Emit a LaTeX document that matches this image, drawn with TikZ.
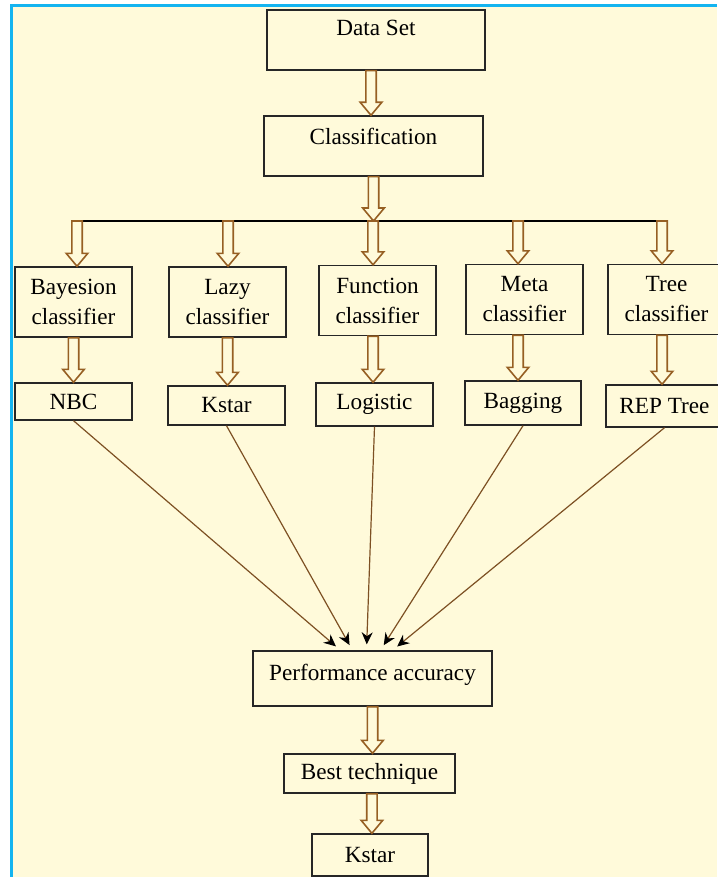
\documentclass[tikz,border=0pt]{standalone}
\usepackage{fontspec}
\setmainfont{Liberation Serif}
\usetikzlibrary{arrows.meta,calc,positioning}

\definecolor{cream}{RGB}{255,250,218}
\definecolor{skyline}{RGB}{20,180,240}
\definecolor{arrbrown}{RGB}{150,95,35}
\definecolor{linebrown}{RGB}{125,80,35}

\tikzset{
  box/.style={draw=black!85, line width=0.7pt, fill=cream, inner sep=3pt,
    align=center, font=\rmfamily\fontsize{11.6}{15}\selectfont},
  dbl/.style={draw=arrbrown, line width=0.8pt, fill=cream,
    to path={let \p1=(\tikztostart), \p2=(\tikztotarget) in
      (\x1-2.6pt,\y1) -- (\x1-2.6pt,\y2+6.5pt) -- (\x1-5.4pt,\y2+6.5pt) -- (\x1,\y2)
      -- (\x1+5.4pt,\y2+6.5pt) -- (\x1+2.6pt,\y2+6.5pt) -- (\x1+2.6pt,\y1) -- cycle}},
  feed/.style={draw=linebrown, line width=0.6pt,
    -{Stealth[black,length=6pt,width=5.5pt]}, shorten >=3pt}
}

\begin{document}
\begin{tikzpicture}[x=0.5pt,y=-0.5pt]
\useasboundingbox (0,0) rectangle (717,877);
\fill[white] (0,0) rectangle (717,877);
\fill[cream] (12,7) rectangle (717,877);
\draw[skyline, line width=1.5pt] (11,877) -- (11,6) -- (717,6);

\node[box, minimum width=109pt, text height=10pt, text depth=14pt] (ds) at (376,40) {Data Set};
\node[box, minimum width=109.5pt, text height=11.5pt, text depth=12.5pt] (cls) at (373.5,146) {Classification};

\node[box, minimum width=58.5pt, minimum height=35pt] (bay) at (73.5,302) {Bayesion\\classifier};
\node[box, minimum width=58.5pt, minimum height=35pt] (lazy) at (227.5,302) {Lazy\\classifier};
\node[box, minimum width=58.5pt, minimum height=35pt] (func) at (377.5,300.5) {Function\\classifier};
\node[box, minimum width=58.5pt, minimum height=35pt] (meta) at (524.5,299.5) {Meta\\classifier};
\node[box, minimum width=58.5pt, minimum height=35pt] (tree) at (666.5,299.5) {Tree\\classifier};

\node[box, minimum width=58.5pt, minimum height=18.5pt] (nbc) at (73.5,401.5) {NBC};
\node[box, minimum width=58.5pt, minimum height=19.5pt] (ks) at (226.5,405.5) {Kstar};
\node[box, minimum width=58.5pt, minimum height=21.5pt] (log) at (374.5,404.5) {Logistic};
\node[box, minimum width=58pt, minimum height=22pt] (bag) at (523,403) {Bagging};
\node[box, minimum width=58.5pt, minimum height=21pt] (rep) at (664.5,406) {REP Tree};

\node[box, minimum width=119.5pt, text height=11.5pt, text depth=10pt] (perf) at (372.5,678.5) {Performance accuracy};
\node[box, minimum width=85.5pt, minimum height=19.5pt] (best) at (369.5,773.5) {Best technique};
\node[box, minimum width=58pt, minimum height=21pt] (ksf) at (370,855) {Kstar};

\coordinate (b1) at (77,221);
\coordinate (b2) at (228,221);
\coordinate (b3) at (373,221);
\coordinate (b4) at (518,221);
\coordinate (b5) at (662,221);

\draw[dbl] ([xshift=-2.5pt]ds.south) to (cls.north);
\draw[dbl] (cls.south) to (b3);
\draw[line width=0.7pt] (b1) -- (b5);
\foreach \b/\c in {b1/bay,b2/lazy,b3/func,b4/meta,b5/tree}
  \draw[dbl] (\b) to (\c.north);

\draw[dbl] (bay.south) to (nbc.north);
\draw[dbl] (lazy.south) to (ks.north);
\draw[dbl] (b3 |- func.south) to (log.north);
\draw[dbl] (b4 |- meta.south) to (bag.north);
\draw[dbl] (b5 |- tree.south) to (rep.north);

\draw[feed] (nbc.south) -- ([xshift=-16pt]perf.north);
\draw[feed] (ks.south) -- ([xshift=-10pt]perf.north);
\draw[feed] (log.south) -- ([xshift=-3pt]perf.north);
\draw[feed] (bag.south) -- ([xshift=4pt]perf.north);
\draw[feed] (rep.south) -- ([xshift=10pt]perf.north);

\draw[dbl] (perf.south) to (best.north);
\draw[dbl] ([xshift=1.2pt]best.south) to (ksf.north);
\end{tikzpicture}
\end{document}
